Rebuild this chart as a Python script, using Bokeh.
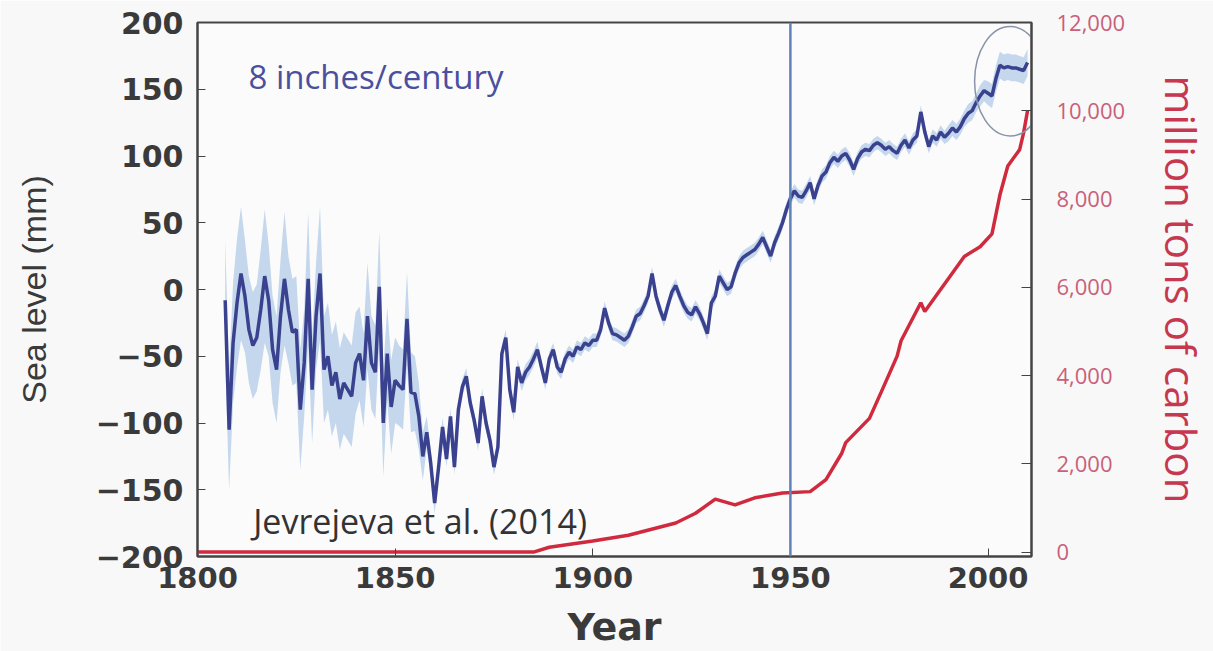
from bokeh.plotting import figure
from bokeh.models import (Range1d, LinearAxis, NumeralTickFormatter, Span, Label)
from bokeh.embed import file_html
from bokeh.resources import INLINE

# ---------------- data ----------------
years = list(range(1807, 2011))
sea_level = [
    -8, -105, -40, -10, 12, -5, -30, -42, -36, -15,        # 1807-1816
    10, -8, -45, -60, -20, 8, -15, -32, -30, -90,          # 1817-1826
    -55, 8, -75, -20, 12, -60, -50, -72, -62, -82,         # 1827-1836
    -70, -75, -80, -55, -48, -68, -20, -55, -62, 2,        # 1837-1846
    -100, -48, -88, -68, -72, -75, -22, -77, -78, -95,     # 1847-1856
    -125, -107, -130, -160, -133, -103, -127, -95, -133, -90,  # 1857-1866
    -73, -65, -85, -98, -115, -80, -100, -113, -133, -118,  # 1867-1876
    -48, -36, -75, -92, -58, -70, -62, -58, -52, -45,      # 1877-1886
    -58, -70, -52, -45, -58, -62, -52, -47, -50, -43,      # 1887-1896
    -45, -40, -42, -38, -38, -30, -14, -25, -33, -34,      # 1897-1906
    -36, -38, -35, -28, -20, -18, -12, -5, 12, -5,         # 1907-1916
    -15, -23, -12, -2, 3, -5, -12, -17, -19, -13,          # 1917-1926
    -18, -25, -33, -10, -5, 10, 5, 0, 2, 12,               # 1927-1936
    20, 24, 26, 28, 30, 34, 39, 32, 25, 35,                # 1937-1946
    42, 50, 60, 68, 74, 70, 69, 74, 80, 68,                # 1947-1956
    78, 85, 88, 95, 99, 96, 100, 102, 97, 90,              # 1957-1966
    98, 103, 105, 104, 108, 110, 108, 105, 107, 104,       # 1967-1976
    102, 108, 112, 106, 112, 115, 133, 118, 107, 115,      # 1977-1986
    112, 118, 114, 117, 121, 118, 122, 128, 132, 134,      # 1987-1996
    140, 145, 149, 147, 145, 158, 168, 166, 167, 166,      # 1997-2006
    166, 165, 164, 170,                                    # 2007-2010
]
sea_err = [
    45, 45, 45, 48, 50, 42, 40, 40, 40, 45,
    50, 42, 40, 40, 42, 50, 40, 40, 40, 45,
    40, 50, 40, 40, 50, 40, 40, 38, 38, 38,
    38, 38, 38, 38, 35, 35, 40, 35, 35, 42,
    40, 35, 35, 32, 30, 30, 35, 30, 28, 25,
    18, 12, 10, 8, 7, 7, 6, 6, 6, 6,
    6, 6, 6, 6, 6, 6, 6, 6, 6, 6,
    6, 6, 6, 6, 6, 6, 6, 6, 6, 6,
    5, 5, 5, 5, 5, 5, 5, 5, 5, 5,
    5, 5, 5, 5, 5, 5, 5, 5, 5, 5,
    5, 5, 5, 5, 5, 5, 5, 5, 5, 5,
    5, 5, 5, 5, 5, 5, 5, 5, 5, 5,
    5, 5, 5, 5, 5, 5, 5, 5, 5, 5,
    5, 5, 5, 5, 5, 5, 5, 5, 5, 5,
    5, 5, 5, 5, 5, 5, 5, 5, 5, 5,
    5, 5, 5, 5, 5, 5, 5, 5, 5, 5,
    5, 5, 5, 5, 5, 5, 5, 5, 5, 5,
    5, 5, 5, 5, 5, 5, 5, 5, 5, 5,
    5, 5, 5, 6, 6, 6, 6, 6, 7, 7,
    7, 8, 8, 9, 9, 10, 10, 10, 10, 10,
    10, 10, 10, 10,
]

carbon_years = [1800, 1850, 1885, 1889, 1900, 1909, 1921, 1926, 1931, 1936,
                1941, 1948, 1955, 1959, 1963, 1964, 1970, 1973, 1977, 1978,
                1983, 1984, 1990, 1994, 1998, 2001, 2003, 2005, 2008, 2009, 2010]
carbon = [0, 0, 0, 110, 250, 380, 660, 880, 1200, 1070,
          1230, 1340, 1370, 1640, 2240, 2480, 3030, 3630, 4440, 4790,
          5650, 5450, 6200, 6700, 6920, 7210, 8090, 8750, 9120, 9500, 10000]

sea_ticks = [-200, -150, -100, -50, 0, 50, 100, 150, 200]
year_ticks = [1800, 1850, 1900, 1950, 2000]
carbon_ticks = [0, 2000, 4000, 6000, 8000, 10000, 12000]

marker_year = 1950
highlight_x, highlight_y, highlight_w, highlight_h = [2005.6], [156], [18], [82]

# ---------------- figure ----------------
p = figure(width=1213, height=651, output_backend="svg", toolbar_location=None,
           x_range=Range1d(1800, 2011), y_range=Range1d(-200, 200),
           min_border_left=197, min_border_right=181,
           min_border_top=22, min_border_bottom=94)
p.extra_y_ranges = {"carbon": Range1d(-100, 12000)}
p.background_fill_color = "#fbfbfb"
p.border_fill_color = "#f8f8f8"
p.outline_line_color = "#444444"
p.outline_line_width = 2
p.grid.visible = False

lo = [v - e for v, e in zip(sea_level, sea_err)]
hi = [v + e for v, e in zip(sea_level, sea_err)]
p.varea(x=years, y1=lo, y2=hi, fill_color="#bed3ea", fill_alpha=0.9)
p.line(years, sea_level, line_color="#3a4290", line_width=3.5)

p.line(carbon_years, carbon, line_color="#d02a3e", line_width=3.5,
       y_range_name="carbon")

p.add_layout(Span(location=marker_year, dimension="height",
                  line_color="#5f82b8", line_width=2.5))

p.ellipse(x=highlight_x, y=highlight_y, width=highlight_w, height=highlight_h,
          fill_color=None, line_color="#8893aa", line_width=1.5)

p.add_layout(Label(x=1812.9, y=143, text="8 inches/century",
                   text_font="Open Sans", text_font_size="33px",
                   text_color="#4a4f9e"))
p.add_layout(Label(x=1814.1, y=-191, text="Jevrejeva et al. (2014)",
                   text_font="Open Sans", text_font_size="34px",
                   text_color="#333333"))

tick_font = "DejaVu Sans"

# x axis (bottom)
xa = p.xaxis[0]
xa.ticker = year_ticks
xa.major_tick_in = 8
xa.major_tick_out = 0
xa.minor_tick_line_color = None
xa.axis_line_color = "#444444"
xa.axis_line_width = 2
xa.major_tick_line_color = "#444444"
xa.major_label_text_font = tick_font
xa.major_label_text_font_style = "bold"
xa.major_label_text_font_size = "29px"
xa.major_label_text_color = "#3a3a3a"
xa.major_label_standoff = 10
xa.axis_label = "Year"
xa.axis_label_text_font = tick_font
xa.axis_label_text_font_style = "bold"
xa.axis_label_text_font_size = "38px"
xa.axis_label_text_color = "#3a3a3a"
xa.axis_label_standoff = 14

# y axis (left)
ya = p.yaxis[0]
ya.ticker = sea_ticks
ya.major_label_overrides = {t: ("\u2212" + str(-t) if t < 0 else str(t)) for t in sea_ticks}
ya.major_tick_in = 8
ya.major_tick_out = 0
ya.minor_tick_line_color = None
ya.axis_line_color = "#444444"
ya.axis_line_width = 2
ya.major_tick_line_color = "#444444"
ya.major_label_text_font = tick_font
ya.major_label_text_font_style = "bold"
ya.major_label_text_font_size = "30px"
ya.major_label_text_color = "#3a3a3a"
ya.major_label_standoff = 14
ya.axis_label = "Sea level (mm)"
ya.axis_label_text_font = "'Liberation Sans Narrow', 'Liberation Sans'"
ya.axis_label_text_font_style = "normal"
ya.axis_label_text_font_size = "34px"
ya.axis_label_text_color = "#3a3a3a"
ya.axis_label_standoff = 40

# right axis (carbon)
ra = LinearAxis(y_range_name="carbon", ticker=carbon_ticks,
                formatter=NumeralTickFormatter(format="0,0"))
ra.major_tick_in = 10
ra.major_tick_out = 0
ra.minor_tick_line_color = None
ra.axis_line_color = "#444444"
ra.axis_line_width = 2
ra.major_tick_line_color = "#444444"
ra.major_label_text_font = "Open Sans"
ra.major_label_text_font_size = "22px"
ra.major_label_text_color = "#c8607a"
ra.major_label_standoff = 25
ra.axis_label = "million tons of carbon"
ra.axis_label_text_font = "Open Sans"
ra.axis_label_text_font_style = "normal"
ra.axis_label_text_font_size = "42px"
ra.axis_label_text_color = "#c63850"
ra.axis_label_standoff = 25
p.add_layout(ra, "right")

open("out.html", "w").write(file_html(p, INLINE))
